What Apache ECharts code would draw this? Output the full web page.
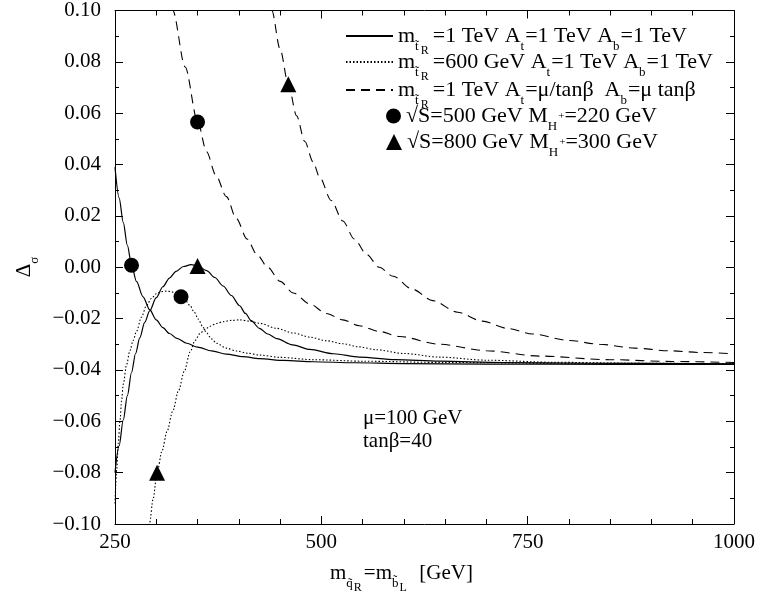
<!DOCTYPE html>
<html>
<head>
<meta charset="utf-8">
<script src="https://cdn.jsdelivr.net/npm/echarts@6/dist/echarts.min.js"></script>
<style>
  html, body { margin: 0; padding: 0; background: #fff; }
  #chart { width: 758px; height: 593px; }
</style>
</head>
<body>
<div id="chart"></div>
<script>
// x tick labels / y tick labels
const xTicks = [250, 500, 750, 1000];
const yTicks = [-0.1, -0.08, -0.06, -0.04, -0.02, 0, 0.02, 0.04, 0.06, 0.08, 0.1];

// solid: m_stop=1 TeV, At=1 TeV, Ab=1 TeV
const solid500 = [[250,0.039],[255,0.027],[260,0.0175],[265,0.0085],[270,0.001],[276,-0.0055],[284,-0.0115],[292,-0.0165],
  [300,-0.0205],[308,-0.0235],[316,-0.0258],[325,-0.0277],[337,-0.0296],[350,-0.0311],[367,-0.0326],[385,-0.0338],
  [405,-0.0348],[425,-0.0356],[455,-0.0363],[490,-0.0368],[540,-0.0372],[600,-0.0375],[700,-0.0377],[850,-0.0378],[1000,-0.0378]];
const solid800 = [[250,-0.080],[255,-0.0695],[260,-0.0595],[265,-0.050],[270,-0.041],[275,-0.0335],[280,-0.0275],[286,-0.0215],
  [292,-0.0170],[300,-0.0118],[308,-0.0076],[316,-0.0042],[324,-0.0016],[333,0.0003],[342,0.0010],[350,0.0006],[361,-0.0013],
  [371,-0.0040],[381,-0.0073],[391,-0.0110],[401,-0.0150],[408,-0.0180],[415,-0.0208],[425,-0.0238],[435,-0.0260],[446,-0.0278],
  [465,-0.0302],[486,-0.0320],[515,-0.0337],[546,-0.0350],[590,-0.0360],[643,-0.0366],[720,-0.0371],[820,-0.0374],[1000,-0.0376]];

// dotted: m_stop=600 GeV
const dot500 = [[250,-0.092],[252,-0.079],[254,-0.0685],[256,-0.060],[258,-0.052],[260,-0.0455],[264,-0.038],[268,-0.0325],
  [272,-0.0285],[276,-0.025],[282,-0.0195],[288,-0.015],[294,-0.0122],[300,-0.0103],[306,-0.0095],[312,-0.0093],[318,-0.0095],
  [324,-0.0103],[330,-0.0115],[336,-0.0132],[341,-0.0150],[346,-0.0175],[351,-0.0202],[356,-0.0230],[361,-0.0256],[367,-0.0279],
  [373,-0.0296],[385,-0.0315],[397,-0.0326],[411,-0.0335],[425,-0.0342],[450,-0.0351],[490,-0.0360],[550,-0.0366],[650,-0.0371],
  [800,-0.0374],[1000,-0.0376]];
const dot800 = [[289,-0.106],[292,-0.0995],[296,-0.0905],[301,-0.0800],[307,-0.0715],[313,-0.0640],[320,-0.0560],[327,-0.0480],
  [334,-0.0405],[341,-0.0330],[347,-0.0285],[353,-0.0258],[359,-0.0242],[365,-0.0230],[373,-0.0219],[381,-0.0212],[391,-0.0207],
  [401,-0.0205],[413,-0.0210],[425,-0.0218],[446,-0.0238],[466,-0.0256],[486,-0.0272],[506,-0.0286],[526,-0.0298],[546,-0.0310],
  [566,-0.0321],[600,-0.0336],[643,-0.0350],[700,-0.0362],[780,-0.0370],[880,-0.0374],[1000,-0.0376]];

// dashed: At=mu/tanb, Ab=mu tanb
const dash500 = [[316,0.107],[320,0.100],[335,0.078],[350,0.0569],[361,0.045],[372,0.036],[385,0.0275],[397,0.019],[410,0.011],
  [422,0.005],[435,0.000],[450,-0.0055],[466,-0.0100],[486,-0.0143],[506,-0.0180],[526,-0.0205],[546,-0.0228],[570,-0.0250],
  [595,-0.0270],[643,-0.0300],[700,-0.0325],[764,-0.0346],[850,-0.0360],[925,-0.0367],[1000,-0.0371]];
const dash800 = [[436,0.106],[440,0.100],[450,0.085],[460,0.0713],[470,0.059],[480,0.049],[490,0.041],[498,0.035],[512,0.026],
  [526,0.018],[540,0.011],[555,0.005],[570,0.000],[587,-0.0035],[610,-0.0085],[635,-0.013],[665,-0.0175],[695,-0.021],
  [725,-0.0238],[756,-0.026],[800,-0.0285],[837,-0.030],[880,-0.0315],[920,-0.0325],[960,-0.0332],[1000,-0.0337]];

// markers
const circles500 = [[270,0.0008],[330,-0.0115],[350,0.0566]];
const triangles800 = [[350,0.0005],[301,-0.080],[460,0.0713]];

const FONT = "Liberation Serif";
const rich = {
  m: { fontFamily: FONT, fontSize: 21, color: "#000", lineHeight: 42 },
  s: { fontFamily: FONT, fontSize: 13, color: "#000", verticalAlign: "top", padding: [25, 0, 0, 0] },
  ss: { fontFamily: FONT, fontSize: 12, color: "#000", verticalAlign: "top", padding: [30, 2, 0, 1] },
  sp: { fontFamily: FONT, fontSize: 11, color: "#000", verticalAlign: "top", padding: [16, 0, 0, 0] },
};
// legend text is a touch larger than the axis text
const legendRich = {
  m: { fontFamily: FONT, fontSize: 22, color: "#000", lineHeight: 42 },
  s: { fontFamily: FONT, fontSize: 13, color: "#000", verticalAlign: "top", padding: [25, 1, 0, 0] },
  ss: { fontFamily: FONT, fontSize: 12, color: "#000", verticalAlign: "top", padding: [30, 4, 0, 1] },
  sp: { fontFamily: FONT, fontSize: 11, color: "#000", verticalAlign: "top", padding: [16, 0, 0, 0] },
};

const legendText = {
  solid: "{m|m}{s|t\u0303}{ss|R}{m|=1 TeV A}{s|t}{m|=1 TeV A}{s|b}{m|=1 TeV}",
  dotted: "{m|m}{s|t\u0303}{ss|R}{m|=600 GeV A}{s|t}{m|=1 TeV A}{s|b}{m|=1 TeV}",
  dashed: "{m|m}{s|t\u0303}{ss|R}{m|=1 TeV A}{s|t}{m|=\u03bc/tan\u03b2  A}{s|b}{m|=\u03bc tan\u03b2}",
  s500: "{m|\u221aS=500 GeV M}{s|H}{sp|+}{m|=220 GeV}",
  s800: "{m|\u221aS=800 GeV M}{s|H}{sp|+}{m|=300 GeV}",
};

function lineSeries(name, data, type) {
  return {
    name: name,
    type: "line",
    data: data,
    symbol: "none",
    smooth: 0.3,
    smoothMonotone: "x",
    clip: true,
    lineStyle: { color: "#000", width: type === "solid" ? 1.2 : 1.1, type: type },
    z: 2,
  };
}

function oneLegend(name, left, top, w, h, extra) {
  return Object.assign({
    data: [name],
    left: left,
    top: top,
    padding: 0,
    itemWidth: w,
    itemHeight: h,
    selectedMode: false,
    formatter: function (n) { return legendText[n]; },
    textStyle: { rich: legendRich },
  }, extra || {});
}

const chart = echarts.init(document.getElementById("chart"));
const axisCommon = {
  axisLine: { onZero: false, lineStyle: { color: "#000", width: 1 } },
  axisTick: { inside: true, length: 8, lineStyle: { color: "#000" } },
  splitLine: { show: false },
};
const xMinor = { show: true, splitNumber: 5, length: 5, lineStyle: { color: "#000" } };
const yMinor = { show: true, splitNumber: 2, length: 4, lineStyle: { color: "#000" } };

chart.setOption({
  animation: false,
  backgroundColor: "#fff",
  grid: { left: 115, right: 24, top: 7, bottom: 69 },
  xAxis: [
    Object.assign({
      type: "value", min: xTicks[0], max: xTicks[xTicks.length - 1], interval: 250, position: "bottom",
      axisLabel: { fontFamily: FONT, fontSize: 21, color: "#000", margin: 8, formatter: function (v) { return String(v); } },
      minorTick: xMinor,
    }, axisCommon),
    Object.assign({
      type: "value", min: xTicks[0], max: xTicks[xTicks.length - 1], interval: 250, position: "top",
      axisLabel: { show: false },
      minorTick: xMinor,
    }, axisCommon),
  ],
  yAxis: [
    Object.assign({
      type: "value", min: yTicks[0], max: yTicks[yTicks.length - 1], interval: 0.02, position: "left",
      axisLabel: {
        fontFamily: FONT, fontSize: 21, color: "#000", margin: 14,
        formatter: function (v) { return (v < -1e-9 ? "\u2212" : "") + Math.abs(v).toFixed(2); },
      },
      minorTick: yMinor,
    }, axisCommon),
    Object.assign({
      type: "value", min: yTicks[0], max: yTicks[yTicks.length - 1], interval: 0.02, position: "right",
      axisLabel: { show: false },
      minorTick: yMinor,
    }, axisCommon),
  ],
  legend: [
    oneLegend("solid", 345, 25, 47, 14, { itemStyle: { opacity: 0 } }),
    oneLegend("dotted", 345, 51, 47, 14, { itemStyle: { opacity: 0 } }),
    oneLegend("dashed", 345, 79, 47, 14, { itemStyle: { opacity: 0 } }),
    oneLegend("s500", 386, 105, 15, 15),
    oneLegend("s800", 386, 131, 16, 16),
  ],
  graphic: [
    { type: "text", left: 363, top: 408, style: { text: "\u03bc=100 GeV", fontFamily: FONT, fontSize: 21, fill: "#000" } },
    { type: "text", left: 363, top: 431, style: { text: "tan\u03b2=40", fontFamily: FONT, fontSize: 21, fill: "#000" } },
    { type: "text", x: 330, y: 573,
      style: { text: "{m|m}{s|q\u0303}{ss|R}{m|=m}{s|b\u0303}{ss|L}{m|  [GeV]}", rich: rich, verticalAlign: "middle", align: "left" } },
    { type: "text", x: 24, y: 267, rotation: Math.PI / 2,
      style: { text: "{m|\u0394}{s|\u03c3}", rich: rich, verticalAlign: "middle", align: "center" } },
  ],
  series: [
    lineSeries("solid", solid500, "solid"),
    lineSeries("solid", solid800, "solid"),
    lineSeries("dotted", dot500, [1.5, 2]),
    lineSeries("dotted", dot800, [1.5, 2]),
    lineSeries("dashed", dash500, [9, 6]),
    lineSeries("dashed", dash800, [9, 6]),
    {
      name: "s500", type: "scatter", data: circles500, symbol: "circle", symbolSize: 15,
      itemStyle: { color: "#000", opacity: 1 }, z: 5,
    },
    {
      name: "s800", type: "scatter", data: triangles800, symbol: "triangle", symbolSize: 16,
      itemStyle: { color: "#000", opacity: 1 }, z: 5,
    },
  ],
});
</script>
</body>
</html>
